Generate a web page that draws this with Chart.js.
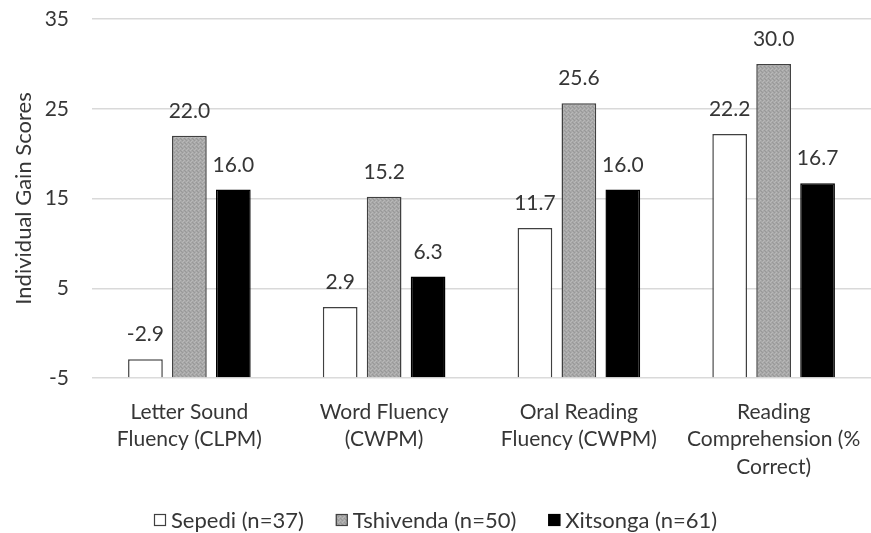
<!DOCTYPE html>
<html>
<head>
<meta charset="utf-8">
<script src="https://cdn.jsdelivr.net/npm/chart.js@4.4.1/dist/chart.umd.min.js"></script>
<style>
  html, body { margin: 0; padding: 0; background: #ffffff; }
  #wrap { width: 871px; height: 533px; position: relative; }
</style>
</head>
<body>
<div id="wrap"><canvas id="c" width="871" height="533"></canvas></div>
<script>
// ---- data ----
const categories = [
  ["Letter Sound", "Fluency (CLPM)"],
  ["Word Fluency", "(CWPM)"],
  ["Oral Reading", "Fluency (CWPM)"],
  ["Reading", "Comprehension (%", "Correct)"]
];
const seriesNames = ["Sepedi (n=37)", "Tshivenda (n=50)", "Xitsonga (n=61)"];
const sepedi = [-2.9, 2.9, 11.7, 22.2];
const tshivenda = [22.0, 15.2, 25.6, 30.0];
const xitsonga = [16.0, 6.3, 16.0, 16.7];
const yTicks = [-5, 5, 15, 25, 35];
const yTitle = "Individual Gain Scores";

const TEXT = '#363636';
const FONT = 'Lato, "Open Sans", sans-serif';

function makePattern() {
  const c = document.createElement('canvas');
  c.width = 4; c.height = 4;
  const x = c.getContext('2d');
  x.fillStyle = '#a8a8a8'; x.fillRect(0, 0, 4, 4);
  x.fillStyle = '#b8b8b8'; x.fillRect(0, 0, 1, 1); x.fillRect(2, 2, 1, 1); x.fillRect(3, 1, 1, 1);
  x.fillStyle = '#989898'; x.fillRect(2, 0, 1, 1); x.fillRect(0, 2, 1, 1); x.fillRect(1, 3, 1, 1);
  const main = document.getElementById('c').getContext('2d');
  return main.createPattern(c, 'repeat');
}

const valueLabels = {
  id: 'valueLabels',
  afterDatasetsDraw(chart) {
    const ctx = chart.ctx;
    ctx.save();
    ctx.font = '21px ' + FONT;
    ctx.fillStyle = TEXT;
    ctx.textAlign = 'center';
    ctx.textBaseline = 'alphabetic';
    chart.data.datasets.forEach((ds, di) => {
      const meta = chart.getDatasetMeta(di);
      meta.data.forEach((bar, i) => {
        ctx.fillText(ds.data[i].toFixed(1), bar.x, bar.y - 18);
      });
    });
    ctx.restore();
  }
};

// legend drawn from the datasets (compact box-to-text gap like the original)
const bottomLegend = {
  id: 'bottomLegend',
  afterDraw(chart) {
    const ctx = chart.ctx;
    const box = 12, gapText = 5, gapItem = 32, cy = 520;
    ctx.save();
    ctx.font = '22px ' + FONT;
    ctx.textBaseline = 'middle';
    ctx.textAlign = 'left';
    const items = chart.data.datasets.map(ds => ({ ds, w: ctx.measureText(ds.label).width }));
    const total = items.reduce((s, it) => s + box + gapText + it.w, 0) + gapItem * (items.length - 1);
    let x = Math.round((chart.width - total) / 2);
    items.forEach(it => {
      ctx.fillStyle = it.ds.backgroundColor;
      ctx.fillRect(x, cy - box / 2, box, box);
      ctx.lineWidth = 1.2;
      ctx.strokeStyle = it.ds.borderColor;
      ctx.strokeRect(x + 0.5, cy - box / 2 + 0.5, box - 1, box - 1);
      ctx.fillStyle = TEXT;
      ctx.fillText(it.ds.label, x + box + gapText, cy + 1);
      x += box + gapText + it.w + gapItem;
    });
    ctx.restore();
  }
};

Chart.defaults.font.family = FONT;
Chart.defaults.color = TEXT;

new Chart(document.getElementById('c'), {
  type: 'bar',
  data: {
    labels: categories,
    datasets: [
      { label: seriesNames[0], data: sepedi, backgroundColor: '#ffffff', borderColor: '#404040', borderWidth: 1.5, base: -5 },
      { label: seriesNames[1], data: tshivenda, backgroundColor: makePattern(), borderColor: '#404040', borderWidth: 1.5, base: -5 },
      { label: seriesNames[2], data: xitsonga, backgroundColor: '#000000', borderColor: '#000000', borderWidth: 1.5, base: -5 }
    ]
  },
  options: {
    responsive: false,
    animation: false,
    devicePixelRatio: 1,
    categoryPercentage: 0.677,
    barPercentage: 0.79,
    layout: { padding: { top: 19, right: 0, left: 0, bottom: 0 } },
    plugins: {
      legend: { display: false },
      tooltip: { enabled: false }
    },
    scales: {
      x: {
        grid: { display: false, drawTicks: false },
        border: { display: false },
        ticks: { color: TEXT, font: { size: 21, lineHeight: 1.32 }, padding: 20, maxRotation: 0, autoSkip: false },
        afterFit(scale) {
          scale.height = 533 - 378;
          scale.paddingLeft = 0; scale.paddingRight = 0;
        }
      },
      y: {
        min: -5, max: 35,
        afterBuildTicks(scale) { scale.ticks = yTicks.map(v => ({ value: v })); },
        grid: { color: '#d9d9d9', lineWidth: 1.5, drawTicks: false },
        border: { display: false },
        ticks: { color: TEXT, font: { size: 21 }, padding: 23 },
        title: { display: true, text: yTitle, color: TEXT, font: { size: 22 }, padding: { top: 11, bottom: 0 } },
        afterFit(scale) {
          scale.width = 92;
          scale.paddingTop = 0; scale.paddingBottom = 0;
        }
      }
    }
  },
  plugins: [valueLabels, bottomLegend]
});
</script>
</body>
</html>
